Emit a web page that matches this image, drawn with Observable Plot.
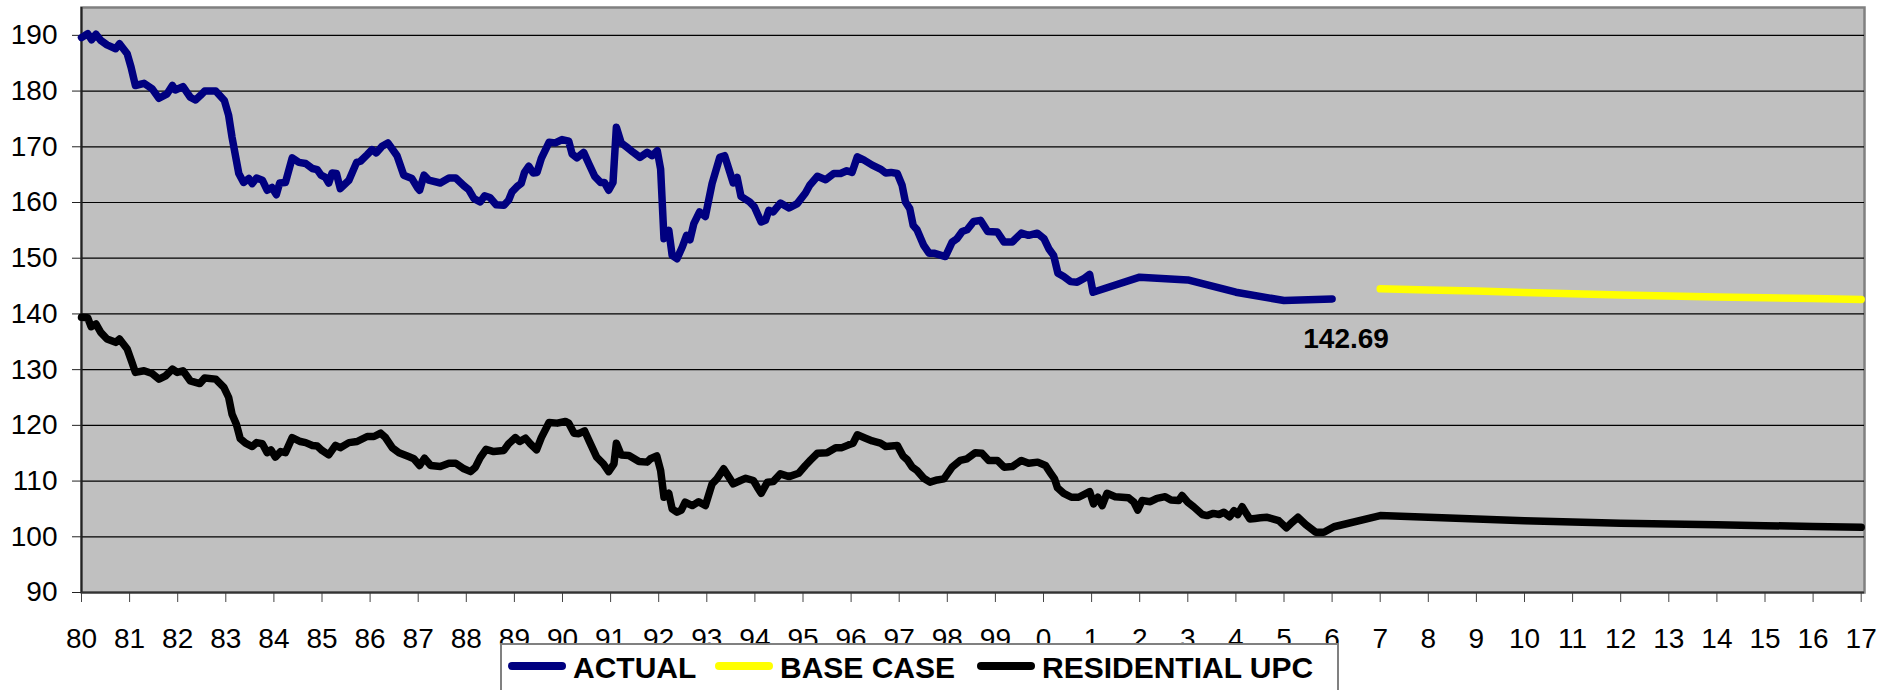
<!DOCTYPE html>
<html>
<head>
<meta charset="utf-8">
<script src="https://cdn.jsdelivr.net/npm/d3@7"></script>
<script src="https://cdn.jsdelivr.net/npm/@observablehq/plot@0.6"></script>
<style>
  html, body { margin: 0; padding: 0; background: #fff; }
  #wrap { position: relative; width: 1894px; height: 690px; overflow: hidden; font-family: Arial, "Liberation Sans", sans-serif; }
  #legend { position: absolute; left: 500px; top: 643px; width: 839px; height: 70px; box-sizing: border-box;
            background: #fff; border: 2px solid #808080; }
  .sw { position: absolute; height: 8px; width: 58px; border-radius: 4px; }
  .lt { position: absolute; font-size: 30px; font-weight: bold; line-height: 30px; color: #000; white-space: nowrap; }
</style>
</head>
<body>
<div id="wrap"><div id="chart"></div><div id="legend"></div></div>
<script>
// ---- data (decimal year, value) ----
const actual = [
  [1980.0,189.6],[1980.13,190.3],[1980.21,189.2],[1980.30,190.2],[1980.40,189.1],[1980.53,188.3],[1980.71,187.6],[1980.79,188.5],[1980.95,186.7],
  [1981.03,184.3],[1981.12,181.0],[1981.30,181.4],[1981.47,180.4],[1981.61,178.7],[1981.78,179.5],[1981.89,181.0],[1981.95,180.2],
  [1982.11,180.8],[1982.26,178.9],[1982.37,178.4],[1982.47,179.2],[1982.56,180.0],[1982.79,180.0],[1982.97,178.3],
  [1983.06,175.6],[1983.13,171.7],[1983.27,165.2],[1983.37,163.6],[1983.48,164.3],[1983.55,163.4],[1983.64,164.4],[1983.76,164.0],[1983.86,162.2],[1983.96,162.7],
  [1984.05,161.4],[1984.12,163.5],[1984.24,163.6],[1984.38,168.0],[1984.52,167.2],[1984.66,167.0],[1984.80,166.1],[1984.90,165.9],[1984.98,164.9],
  [1985.07,164.5],[1985.14,163.5],[1985.21,165.3],[1985.30,165.2],[1985.38,162.5],[1985.56,164.0],[1985.72,167.2],[1985.80,167.4],[1985.94,168.6],
  [1986.04,169.5],[1986.13,168.9],[1986.25,170.1],[1986.37,170.7],[1986.56,168.4],[1986.70,164.9],[1986.87,164.3],[1986.98,162.7],
  [1987.03,162.2],[1987.12,164.9],[1987.22,164.0],[1987.46,163.5],[1987.64,164.4],[1987.78,164.4],[1987.95,163.0],
  [1988.05,162.3],[1988.16,160.7],[1988.29,160.1],[1988.38,161.2],[1988.49,160.9],[1988.62,159.6],[1988.78,159.5],[1988.88,160.4],[1988.95,161.9],
  [1989.06,162.9],[1989.14,163.4],[1989.21,165.4],[1989.30,166.5],[1989.39,165.3],[1989.47,165.4],[1989.56,167.9],[1989.72,170.8],[1989.85,170.7],[1989.99,171.3],
  [1990.13,171.0],[1990.20,168.7],[1990.30,168.0],[1990.44,169.0],[1990.55,166.9],[1990.67,164.7],[1990.79,163.6],[1990.87,163.6],[1990.96,162.2],
  [1991.05,163.6],[1991.12,173.5],[1991.22,170.7],[1991.34,169.9],[1991.47,169.0],[1991.61,168.1],[1991.76,169.0],[1991.86,168.4],[1991.97,169.3],
  [1992.04,166.0],[1992.11,153.5],[1992.21,155.0],[1992.28,150.5],[1992.38,149.9],[1992.49,152.0],[1992.58,154.1],[1992.65,153.3],[1992.73,156.2],[1992.85,158.3],[1992.97,157.5],
  [1993.11,163.4],[1993.27,168.1],[1993.37,168.4],[1993.55,163.5],[1993.63,164.5],[1993.71,161.1],[1993.89,160.1],[1993.99,159.2],
  [1994.13,156.5],[1994.22,156.8],[1994.29,158.6],[1994.38,158.3],[1994.53,159.9],[1994.71,159.0],[1994.88,159.8],
  [1995.05,161.7],[1995.14,163.1],[1995.30,164.7],[1995.47,164.1],[1995.64,165.2],[1995.78,165.2],[1995.91,165.7],
  [1996.02,165.4],[1996.13,168.2],[1996.27,167.6],[1996.44,166.7],[1996.61,166.0],[1996.72,165.3],[1996.83,165.4],[1996.96,165.2],
  [1997.06,163.1],[1997.13,160.1],[1997.22,158.9],[1997.29,155.9],[1997.37,155.1],[1997.51,152.3],[1997.62,150.9],[1997.72,150.9],[1997.96,150.3],
  [1998.10,152.9],[1998.20,153.5],[1998.31,154.8],[1998.41,155.1],[1998.55,156.6],[1998.69,156.8],[1998.84,154.8],
  [1999.04,154.7],[1999.18,152.9],[1999.35,152.9],[1999.54,154.5],[1999.69,154.1],[1999.87,154.5],
  [2000.01,153.5],[2000.11,151.7],[2000.21,150.5],[2000.30,147.3],[2000.42,146.7],[2000.56,145.8],[2000.70,145.7],[2000.85,146.4],[2000.96,147.1],
  [2001.03,143.9],[2002,146.6],[2003,146.1],[2004,143.9],[2005,142.4],[2006,142.69]
];

const baseCaseYears  = [2007, 2008, 2009, 2010, 2011, 2012, 2013, 2014, 2015, 2016, 2017];
const baseCaseValues = [144.5, 144.3, 144.1, 143.85, 143.6, 143.4, 143.2, 143.05, 142.9, 142.75, 142.6];

const residentialUpc = [
  [1980.0,139.4],[1980.13,139.3],[1980.20,137.7],[1980.30,138.2],[1980.40,136.7],[1980.53,135.5],[1980.71,134.9],[1980.79,135.5],[1980.95,133.7],
  [1981.05,131.3],[1981.12,129.5],[1981.30,129.8],[1981.47,129.3],[1981.61,128.3],[1981.75,128.9],[1981.89,130.1],[1981.99,129.5],
  [1982.11,129.8],[1982.26,128.0],[1982.46,127.5],[1982.56,128.5],[1982.79,128.3],[1982.96,126.8],
  [1983.06,125.0],[1983.13,122.0],[1983.22,120.2],[1983.30,117.6],[1983.41,116.8],[1983.55,116.2],[1983.64,116.9],[1983.76,116.7],[1983.86,115.1],[1983.94,115.6],
  [1984.03,114.3],[1984.14,115.3],[1984.24,115.1],[1984.38,117.8],[1984.55,117.1],[1984.66,116.9],[1984.80,116.4],[1984.90,116.3],
  [1985.00,115.5],[1985.14,114.7],[1985.28,116.4],[1985.38,116.0],[1985.56,116.9],[1985.73,117.1],[1985.94,118.0],
  [1986.08,118.0],[1986.22,118.6],[1986.32,117.8],[1986.46,116.0],[1986.60,115.1],[1986.80,114.4],[1986.91,114.0],
  [1987.03,112.8],[1987.13,114.1],[1987.26,112.8],[1987.46,112.6],[1987.64,113.2],[1987.78,113.2],[1987.95,112.2],
  [1988.09,111.7],[1988.19,112.5],[1988.29,114.2],[1988.41,115.7],[1988.57,115.3],[1988.78,115.5],[1988.88,116.7],
  [1989.02,117.8],[1989.11,117.1],[1989.23,117.7],[1989.33,116.7],[1989.46,115.6],[1989.56,117.8],[1989.72,120.5],[1989.89,120.4],
  [1990.06,120.7],[1990.13,120.4],[1990.24,118.6],[1990.34,118.5],[1990.46,119.0],[1990.57,116.9],[1990.71,114.3],[1990.85,113.1],[1990.96,111.7],
  [1991.07,113.1],[1991.12,116.8],[1991.22,114.7],[1991.38,114.6],[1991.59,113.5],[1991.76,113.4],[1991.83,114.0],[1991.96,114.5],
  [1992.04,111.9],[1992.11,107.1],[1992.21,107.8],[1992.28,105.0],[1992.38,104.4],[1992.47,104.8],[1992.55,106.2],[1992.70,105.6],[1992.83,106.3],[1992.97,105.6],
  [1993.11,109.5],[1993.21,110.4],[1993.35,112.2],[1993.55,109.5],[1993.70,110.1],[1993.81,110.5],[1993.97,110.1],
  [1994.05,108.9],[1994.13,107.8],[1994.26,109.8],[1994.38,109.9],[1994.53,111.3],[1994.71,110.8],[1994.91,111.4],
  [1995.05,112.8],[1995.16,113.8],[1995.30,115.0],[1995.50,115.1],[1995.68,116.0],[1995.81,116.0],[1995.95,116.5],
  [1996.04,116.8],[1996.13,118.3],[1996.30,117.7],[1996.44,117.2],[1996.61,116.8],[1996.72,116.2],[1996.96,116.4],
  [1997.08,114.5],[1997.17,113.8],[1997.27,112.5],[1997.37,111.9],[1997.51,110.5],[1997.64,109.8],[1997.79,110.2],[1997.93,110.4],
  [1998.10,112.5],[1998.27,113.7],[1998.41,114.0],[1998.58,115.1],[1998.72,115.0],[1998.86,113.7],
  [1999.04,113.7],[1999.18,112.5],[1999.35,112.6],[1999.54,113.7],[1999.69,113.2],[1999.88,113.4],
  [2000.04,112.8],[2000.15,111.4],[2000.23,110.4],[2000.29,108.8],[2000.42,107.8],[2000.58,107.1],[2000.73,107.1],[2000.96,108.1],
  [2001.04,105.9],[2001.13,107.1],[2001.22,105.6],[2001.32,107.8],[2001.49,107.2],[2001.77,107.0],[2001.88,106.2],[2001.96,104.8],
  [2002.05,106.5],[2002.22,106.3],[2002.36,106.9],[2002.53,107.2],[2002.65,106.6],[2002.81,106.5],[2002.88,107.4],
  [2003.00,106.2],[2003.12,105.4],[2003.30,104.0],[2003.40,103.8],[2003.53,104.2],[2003.65,104.0],[2003.75,104.4],[2003.87,103.6],[2003.96,104.7],
  [2004.04,104.0],[2004.13,105.4],[2004.20,104.4],[2004.29,103.2],[2004.40,103.3],[2004.51,103.4],[2004.65,103.5],[2004.89,102.9],
  [2005.05,101.6],[2005.17,102.6],[2005.29,103.5],[2005.45,102.2],[2005.66,100.8],[2005.83,100.8],
  [2006.04,101.8],[2007,103.8],[2008,103.5],[2009,103.2],[2010,102.9],[2011,102.65],[2012,102.45],[2013,102.3],[2014,102.15],[2015,102.0],[2016,101.85],[2017,101.7]
];

const xTicks = d3.range(1980, 2018);
const xTickLabels = ["80","81","82","83","84","85","86","87","88","89","90","91","92","93","94","95","96","97","98","99",
                     "0","1","2","3","4","5","6","7","8","9","10","11","12","13","14","15","16","17"];
const yTicks = [90, 100, 110, 120, 130, 140, 150, 160, 170, 180, 190];

const seriesNames  = ["ACTUAL", "BASE CASE", "RESIDENTIAL UPC"];
const seriesColors = ["#000080", "#FFFF00", "#000000"];

// ---- chart ----
const baseCase = baseCaseYears.map((y, i) => [y, baseCaseValues[i]]);
const labelOf = new Map(xTicks.map((t, i) => [t, xTickLabels[i]]));
const lastActual = actual[actual.length - 1];
const lineOpts = {x: d => d[0], y: d => d[1], strokeWidth: 7.5, strokeLinejoin: "round", strokeLinecap: "round"};

const chart = Plot.plot({
  width: 1894,
  height: 690,
  marginLeft: 81,
  marginRight: 30,
  marginTop: 7,
  marginBottom: 98,
  style: {background: "#fff", fontFamily: "Arial, 'Liberation Sans', sans-serif", fontSize: "28px", color: "#000"},
  x: {domain: [1980, 2017], range: [81, 1860.7], label: null},
  y: {domain: [90, 195], label: null},
  marks: [
    Plot.frame({fill: "#C0C0C0", stroke: "#808080", strokeWidth: 2.5}),
    Plot.gridY(yTicks, {stroke: "#000", strokeOpacity: 1, strokeWidth: 1.2}),
    Plot.axisY(yTicks, {tickSize: 9, tickPadding: 15, stroke: "#222", fill: "#000", fontSize: 28}),
    Plot.axisX(xTicks, {tickSize: 10, tickPadding: 26, stroke: "#444", fill: "#000", fontSize: 28, tickFormat: d => labelOf.get(d)}),
    Plot.ruleY([90], {stroke: "#333", strokeWidth: 2}),
    Plot.ruleX([1980], {stroke: "#222", strokeWidth: 2}),
    Plot.line(residentialUpc, {...lineOpts, stroke: seriesColors[2]}),
    Plot.line(actual, {...lineOpts, stroke: seriesColors[0]}),
    Plot.line(baseCase, {...lineOpts, stroke: seriesColors[1]}),
    Plot.text([lastActual], {x: d => d[0], y: d => d[1], text: d => d[1].toFixed(2),
      dx: 14, dy: 40, fontWeight: "bold", fontSize: 28, fill: "#000"})
  ]
});
document.getElementById("chart").appendChild(chart);

// ---- legend (HTML, overlapping the bottom like the original) ----
const legend = document.getElementById("legend");
const swLeft = [6, 213, 475];   // relative to legend box
const txLeft = [71, 278, 540];
seriesNames.forEach((name, i) => {
  const sw = document.createElement("div");
  sw.className = "sw";
  sw.style.left = swLeft[i] + "px";
  sw.style.top = "17px";
  sw.style.background = seriesColors[i];
  legend.appendChild(sw);
  const t = document.createElement("div");
  t.className = "lt";
  t.style.left = txLeft[i] + "px";
  t.style.top = "8px";
  t.textContent = name;
  legend.appendChild(t);
});
</script>
</body>
</html>
